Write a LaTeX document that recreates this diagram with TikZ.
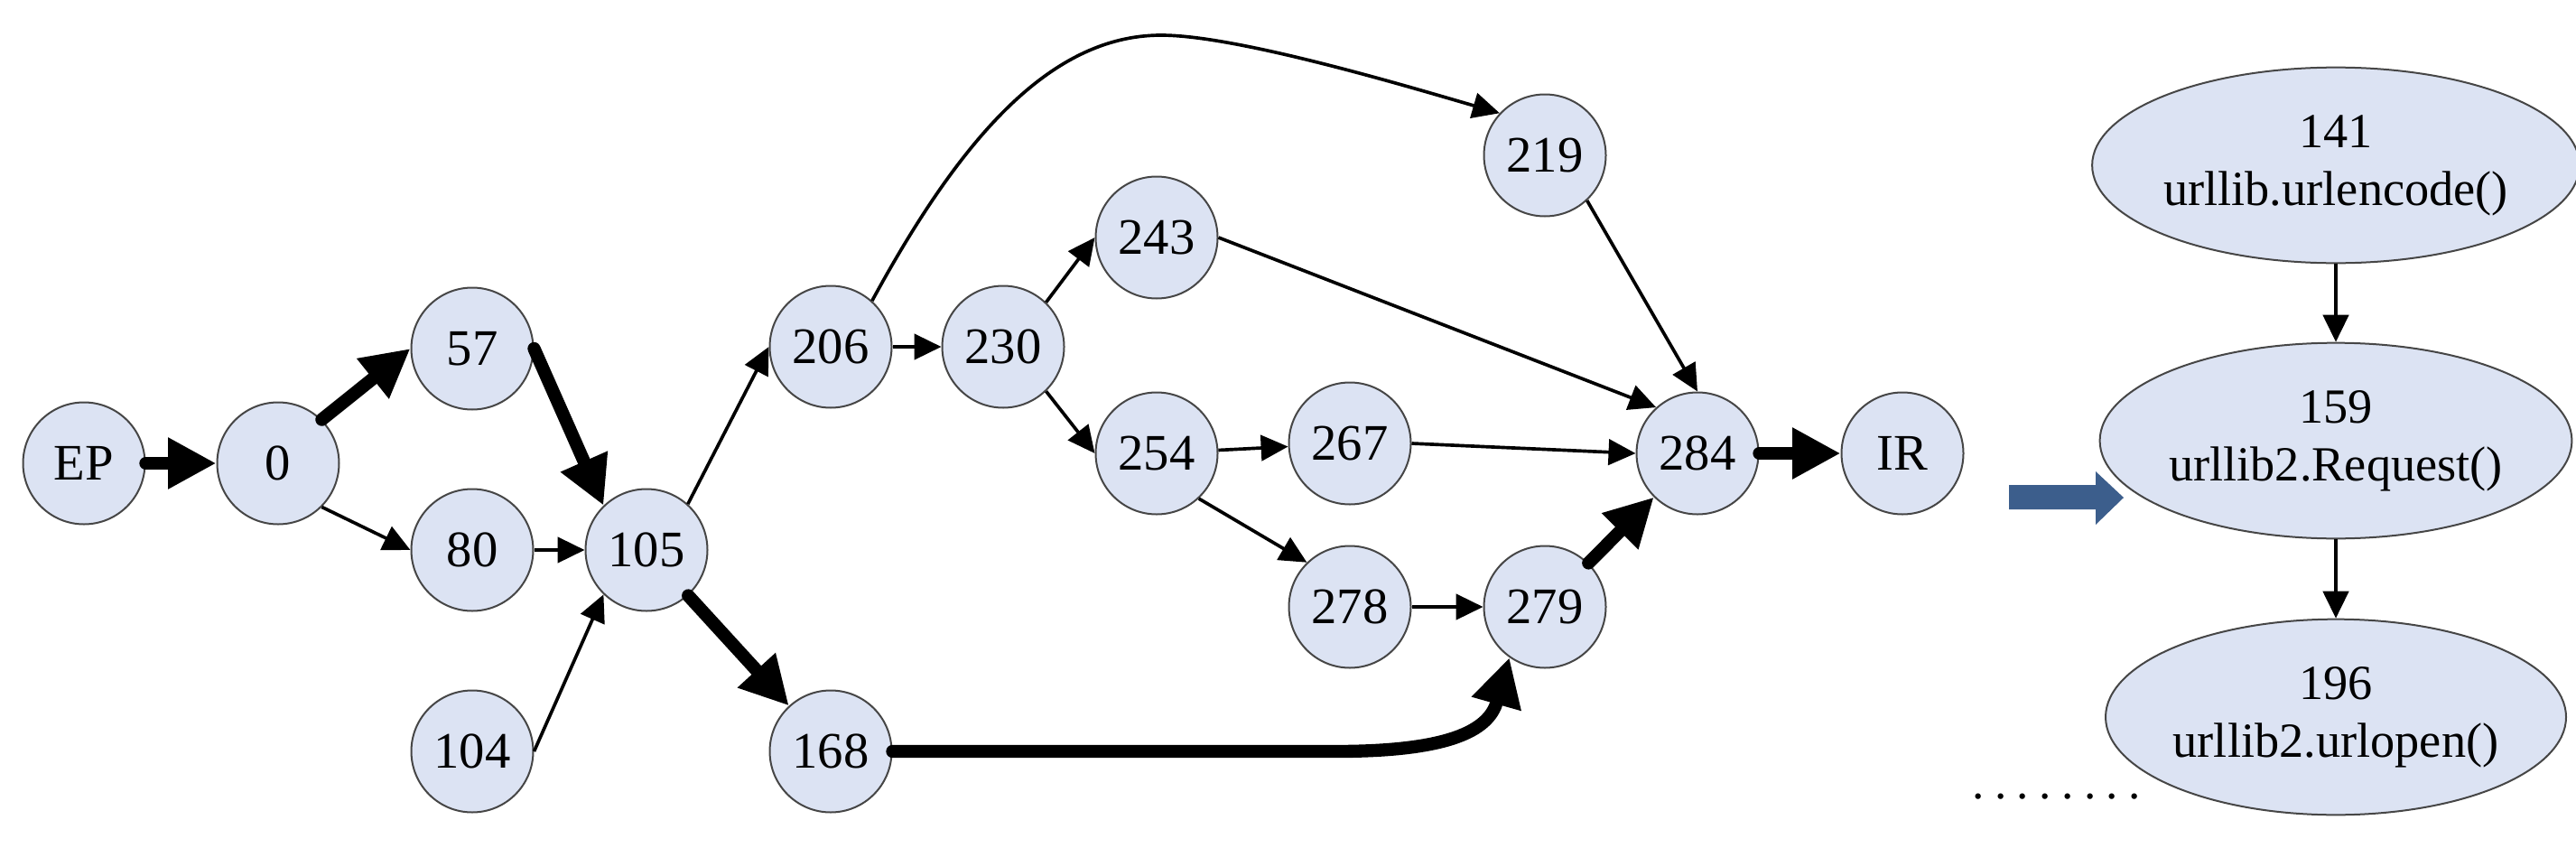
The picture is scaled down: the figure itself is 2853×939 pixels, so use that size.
\documentclass[tikz,border=0pt]{standalone}
\usepackage{fontspec}
\setmainfont{Liberation Serif}
\usetikzlibrary{arrows.meta,shapes.geometric}
\definecolor{nodefill}{RGB}{220,227,243}
\definecolor{nodeedge}{RGB}{70,70,70}
\definecolor{blockblue}{RGB}{60,94,140}
\tikzset{
  cnode/.style={circle,draw=nodeedge,line width=0.6pt,fill=nodefill,minimum size=40.5pt,inner sep=0pt,font=\fontsize{17}{20}\selectfont},
  enode/.style={ellipse,draw=nodeedge,line width=0.6pt,fill=nodefill,minimum width=144pt,minimum height=65pt,inner sep=0pt,align=center,font=\fontsize{16.3}{19.2}\selectfont},
  thin edge/.style={line width=1.1pt,-{Triangle[length=9pt,width=8.5pt]}},
  thick edge/.style={line width=4.3pt,line cap=round,-{Triangle[length=16pt,width=16pt]}},
}
\begin{document}
\begin{tikzpicture}[x=0.3pt,y=-0.3pt]
\useasboundingbox (0,0) rectangle (2853,939);
% left graph nodes
\node[cnode] (nEP) at (93,513) {EP};
\node[cnode] (n0) at (308,513) {0};
\node[cnode] (n57) at (523,386) {57};
\node[cnode] (n80) at (523,609) {80};
\node[cnode] (n105) at (716,609) {105};
\node[cnode] (n104) at (523,832) {104};
\node[cnode] (n206) at (920,384) {206};
\node[cnode] (n168) at (920,832) {168};
\node[cnode] (n230) at (1111,384) {230};
\node[cnode] (n243) at (1281,263) {243};
\node[cnode] (n254) at (1281,502) {254};
\node[cnode] (n267) at (1495,491) {267};
\node[cnode] (n278) at (1495,672) {278};
\node[cnode] (n279) at (1711,672) {279};
\node[cnode] (n219) at (1711,172) {219};
\node[cnode] (n284) at (1880,502) {284};
\node[cnode] (nIR) at (2107,502) {IR};
% right ellipses
\node[enode] (n141) at (2587,183) {141\\urllib.urlencode()};
\node[enode] (n159) at (2587,488) {159\\urllib2.Request()};
\node[enode] (n196) at (2587,794) {196\\urllib2.urlopen()};
% edges
\draw[thick edge] (nEP) -- (n0);
\draw[thick edge] (n0.45) -- (n57.west);
\draw[thin edge] (n0.-45) -- (n80.west);
\draw[thick edge] (n57.east) -- (n105.134);
\draw[thin edge] (n80) -- (n105);
\draw[thin edge] (n104.east) -- (n105.-134);
\draw[thin edge] (n105.48) -- (n206.west);
\draw[thick edge] (n105) -- (n168);
\draw[thin edge] (n206) -- (n230);
\draw[thin edge] (n206.48) .. controls (1060,160) and (1160,39) .. (1286,39) .. controls (1370,39) and (1560,96) .. (n219.137);
\draw[thin edge] (n230.46) -- (n243.west);
\draw[thin edge] (n230.-46) -- (n254.west);
\draw[thin edge] (n243.east) -- (n284.132);
\draw[thin edge] (n254) -- (n267);
\draw[thin edge] (n254.-47) -- (n278.134);
\draw[thin edge] (n267.east) -- (n284.west);
\draw[thin edge] (n278) -- (n279);
\draw[thin edge] (n219.-47) -- (n284.north);
\draw[thick edge] (n168.east) -- (1480,832) .. controls (1615,832) and (1650,805) .. (n279.235);
\draw[thick edge] (n279) -- (n284);
\draw[thick edge] (n284) -- (nIR);
\draw[thin edge] (n141) -- (n159);
\draw[thin edge] (n159) -- (n196);
% block arrow
\fill[blockblue] (2225,537) -- (2321,537) -- (2321,522) -- (2352,551) -- (2321,581) -- (2321,564) -- (2225,564) -- cycle;
% dots
\node[font=\fontsize{16}{19}\selectfont,inner sep=0pt,anchor=base west] (ndots) at (2184,884) {.\kern3.4pt.\kern3.4pt.\kern3.4pt.\kern3.4pt.\kern3.4pt.\kern3.4pt.\kern3.4pt.};
\end{tikzpicture}
\end{document}
